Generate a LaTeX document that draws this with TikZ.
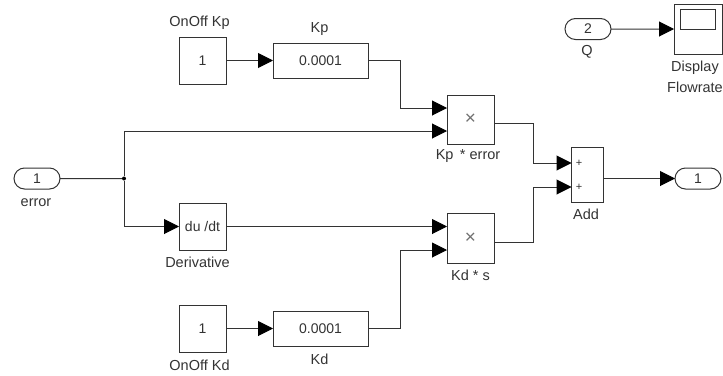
\documentclass[tikz,border=0pt]{standalone}
\usepackage{fontspec}
\setmainfont{Liberation Sans}
\usetikzlibrary{arrows.meta, positioning, calc, shapes.misc}
\definecolor{ink}{HTML}{333333}
\tikzset{
    block/.style={draw=ink, line width=1pt, rectangle, inner sep=0pt, outer sep=0pt, text=ink, font=\fontsize{14}{16}\selectfont},
    port/.style={draw=ink, line width=1pt, rounded rectangle, minimum width=46pt, minimum height=21pt, inner sep=0pt, outer sep=0pt, text=ink, font=\fontsize{14}{16}\selectfont},
    tag/.style={text=ink, inner sep=0pt, font=\fontsize{14.5}{21}\selectfont, align=center},
    times/.style={text=ink!70, font=\fontsize{19}{19}\selectfont},
    sig/.style={draw=ink, line width=1pt, -{Triangle[length=15pt,width=15pt,color=black]}},
    wire/.style={draw=ink, line width=1pt}
}
\begin{document}
\begin{tikzpicture}[x=1pt, y=-1pt]
    \useasboundingbox (0,0) rectangle (723,375);
    % blocks
    \node[port] (err) at (37,178.5) {1};
    \node[port] (q) at (588,29) {2};
    \node[port] (out) at (698,178.5) {1};
    \node[block, minimum width=47pt, minimum height=47pt] (onkp) at (202.5,60.5) {1};
    \node[block, minimum width=95pt, minimum height=35pt] (kp) at (320.5,60.5) {0.0001};
    \node[block, minimum width=47pt, minimum height=47pt] (diff) at (202.5,226.5) {du /dt};
    \node[block, minimum width=47pt, minimum height=47pt] (onkd) at (202.5,328.5) {1};
    \node[block, minimum width=95pt, minimum height=35pt] (kd) at (320.5,328.5) {0.0001};
    \node[block, minimum width=47pt, minimum height=49pt, times] (kperr) at (470.5,119.5) {×};
    \node[block, minimum width=47pt, minimum height=50pt, times] (kds) at (470.5,238) {×};
    \node[block, minimum width=32pt, minimum height=55pt] (add) at (587.5,174.5) {};
    \node[block, minimum width=48pt, minimum height=50pt] (scope) at (698,29) {};
    \node[block, minimum width=35pt, minimum height=20pt] (screen) at (697.5,19) {};
    \node[circle, fill=black, inner sep=0pt, minimum size=4pt] (branch) at (124,178.5) {};

    % labels
    \node[tag] (err_lbl) at (36,203) {error};
    \node[tag] (q_lbl) at (587,52) {Q};
    \node[tag] (onkp_lbl) at (199.5,23) {OnOff Kp};
    \node[tag] (kp_lbl) at (319.5,29) {Kp};
    \node[tag] (diff_lbl) at (197.5,262) {Derivative};
    \node[tag] (onkd_lbl) at (199.5,365) {OnOff Kd};
    \node[tag] (kd_lbl) at (319.5,359) {Kd};
    \node[tag] (kperr_lbl) at (468,156.5) {Kp\, * error};
    \node[tag] (kds_lbl) at (470.5,275) {Kd * s};
    \node[tag] (add_lbl) at (586,214) {Add};
    \node[tag] (scope_lbl) at (695,76.5) {Display\\Flowrate};
    \node[text=ink, font=\fontsize{11}{11}\selectfont, inner sep=0pt] (plus_a) at (579,163) {+};
    \node[text=ink, font=\fontsize{11}{11}\selectfont, inner sep=0pt] (plus_b) at (579,187) {+};

    % inputs of the products and the sum
    \coordinate (kperr_a) at (kperr.west |- 0,108);
    \coordinate (kperr_b) at (kperr.west |- 0,131);
    \coordinate (kds_a) at (kds.west |- 0,226.5);
    \coordinate (kds_b) at (kds.west |- 0,250);
    \coordinate (add_a) at (add.west |- 0,163);
    \coordinate (add_b) at (add.west |- 0,187);

    % signals
    \draw[wire] (err) -- (branch);
    \draw[sig] (branch) |- (kperr_b);
    \draw[sig] (branch) |- (diff);
    \draw[sig] (onkp) -- (kp);
    \draw[sig] (onkd) -- (kd);
    \draw[sig] (q) -- (scope);
    \draw[sig] (add.east |- out) -- (out);
    \draw[sig] (diff) -- (kds_a);
    \draw[sig] (kp.east) -- ++(32,0) |- (kperr_a);
    \draw[sig] (kd.east) -- ++(32,0) |- (kds_b);
    \draw[sig] (kperr.east |- 0,123) -- (533,123) |- (add_a);
    \draw[sig] (kds.east |- 0,242) -- (533,242) |- (add_b);
\end{tikzpicture}
\end{document}
